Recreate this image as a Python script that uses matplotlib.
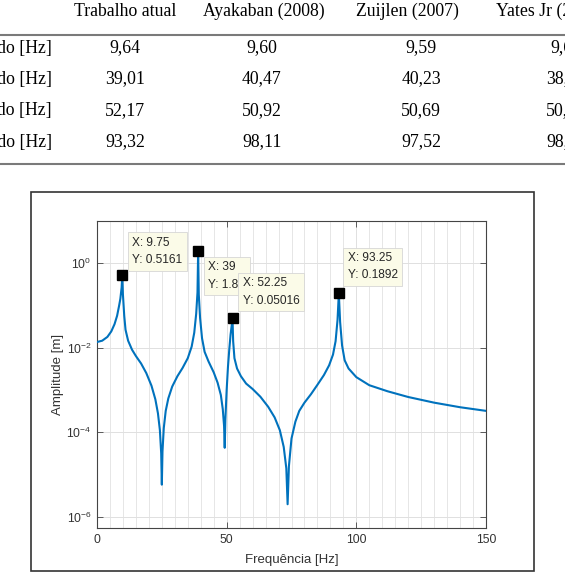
import numpy as np
import matplotlib
matplotlib.use("Agg")
import matplotlib.pyplot as plt
from matplotlib.patches import Rectangle
from matplotlib.lines import Line2D
from matplotlib.ticker import FixedLocator, MultipleLocator, LogFormatterMathtext, NullLocator

plt.rcParams["font.family"] = ["Liberation Sans", "DejaVu Sans"]
plt.rcParams["mathtext.default"] = "regular"

# table data (document screenshot above the chart)
col_heads = ["Trabalho atual", "Ayakaban (2008)", "Zuijlen (2007)", "Yates Jr (2008)"]
row_heads = ["Primeiro modo [Hz]", "Segundo modo [Hz]", "Terceiro modo [Hz]", "Quarto modo [Hz]"]
trabalho = ["9,64", "39,01", "52,17", "93,32"]
ayakaban = ["9,60", "40,47", "50,92", "98,11"]
zuijlen = ["9,59", "40,23", "50,69", "97,52"]
yates = ["9,61", "38,73", "50,14", "98,04"]

# frequency response
freq = [0, 2, 4, 5.5, 6.75, 7.75, 8.5, 9.0, 9.5, 9.75, 10.0, 10.5, 11.0, 12.0, 13.5,
        15.0, 17.0, 19.0, 21.0, 22.5, 23.5, 24.25, 24.75, 25.0, 25.25, 25.75, 26.5,
        27.5, 29.0, 31.0, 33.0, 35.0, 36.5, 37.5, 38.25, 38.75, 39.0, 39.25, 39.75,
        40.5, 41.5, 43.0, 45.0, 46.5, 47.75, 48.5, 49.0, 49.25, 49.5, 50.0, 50.5,
        51.0, 51.5, 52.0, 52.25, 52.5, 53.0, 54.0, 55.5, 57.5, 60, 63, 66, 68.5,
        70.5, 72, 73, 73.5, 74, 75, 76.5, 78, 80, 82.5, 85, 87.5, 89.5, 91, 92,
        92.75, 93.25, 93.75, 94.5, 95.5, 97, 100, 105, 112, 120, 130, 140, 150]
amp = [1.35e-2, 1.45e-2, 1.78e-2, 2.40e-2, 3.55e-2, 5.62e-2, 9.55e-2, 1.41e-1, 2.63e-1,
       5.161e-1, 1.78e-1, 5.62e-2, 2.63e-2, 1.45e-2, 8.9e-3,
       6.3e-3, 4.2e-3, 2.5e-3, 1.26e-3, 6.0e-4, 2.8e-4, 1.12e-4, 3.2e-5, 5.8e-6, 3.5e-5,
       1.26e-4, 3.2e-4,
       6.3e-4, 1.2e-3, 2.1e-3, 3.3e-3, 5.6e-3, 1.05e-2, 2.24e-2, 6.3e-2, 2.0e-1, 1.85,
       1.78e-1, 5.0e-2,
       1.66e-2, 7.9e-3, 4.7e-3, 2.6e-3, 1.48e-3, 7.6e-4, 3.5e-4, 1.41e-4, 4.3e-5, 2.0e-4,
       1.0e-3, 3.5e-3,
       8.9e-3, 2.0e-2, 3.55e-2, 5.016e-2, 1.41e-2, 5.6e-3, 3.2e-3, 2.1e-3, 1.41e-3,
       1.05e-3, 6.9e-4, 4.0e-4, 2.24e-4,
       1.12e-4, 4.5e-5, 1.41e-5, 2.0e-6, 1.58e-5, 7.1e-5, 1.78e-4, 3.2e-4, 5.0e-4,
       7.9e-4, 1.32e-3, 2.24e-3, 3.8e-3, 6.8e-3, 1.41e-2,
       4.5e-2, 1.892e-1, 4.0e-2, 1.12e-2, 5.0e-3, 3.2e-3, 2.0e-3, 1.29e-3, 9.3e-4,
       6.8e-4, 5.0e-4, 3.9e-4, 3.2e-4]

# data tips
tip_x = [9.75, 39, 52.25, 93.25]
tip_y = [0.5161, 1.85, 0.05016, 0.1892]
tip_txt = ["X: 9.75\nY: 0.5161", "X: 39\nY: 1.85", "X: 52.25\nY: 0.05016", "X: 93.25\nY: 0.1892"]

W, H = 565, 573


def fx(x):
    return x / W


def fy(y):
    return 1 - y / H


fig = plt.figure(figsize=(W / 100, H / 100), dpi=100)

# ---- table ----
serif = "Liberation Serif"
tsize = 12.8
row_y = [48, 79, 110.5, 142]
fig.text(fx(125.5), fy(11.5), col_heads[0], ha="center", va="center", family=serif, fontsize=tsize)
fig.text(fx(264), fy(11.5), col_heads[1], ha="center", va="center", family=serif, fontsize=tsize)
fig.text(fx(407), fy(11.5), col_heads[2], ha="center", va="center", family=serif, fontsize=tsize)
fig.text(fx(496), fy(11.5), col_heads[3], ha="left", va="center", family=serif, fontsize=tsize)
for i in range(4):
    fig.text(fx(52), fy(row_y[i]), row_heads[i], ha="right", va="center", family=serif, fontsize=tsize)
    fig.text(fx(125), fy(row_y[i]), trabalho[i], ha="center", va="center", family=serif, fontsize=tsize)
    fig.text(fx(262), fy(row_y[i]), ayakaban[i], ha="center", va="center", family=serif, fontsize=tsize)
    fig.text(fx(421), fy(row_y[i]), zuijlen[i], ha="center", va="center", family=serif, fontsize=tsize)
    fig.text(fx(566), fy(row_y[i]), yates[i], ha="center", va="center", family=serif, fontsize=tsize)
for yy in [34.5, 164]:
    fig.add_artist(Line2D([0, 1], [fy(yy), fy(yy)], transform=fig.transFigure, color="#7a7a7a", lw=1.5))

# ---- framed MATLAB figure ----
fig.add_artist(Rectangle((fx(31), fy(571)), fx(534) - fx(31), fy(192) - fy(571),
                         transform=fig.transFigure, fill=False, ec="#333333", lw=1.2))

ax = fig.add_axes([fx(97), fy(528), fx(486) - fx(97), fy(221) - fy(528)])
ax.plot(freq, amp, color="#0072BD", lw=1.5, zorder=3)
ax.set_yscale("log")
ax.set_xlim(0, 150)
ax.set_ylim(5.5e-7, 9.7)

ax.xaxis.set_major_locator(FixedLocator([0, 50, 100, 150]))
ax.xaxis.set_minor_locator(MultipleLocator(5))
ax.yaxis.set_major_locator(FixedLocator([1e-6, 1e-4, 1e-2, 1e0]))
ax.yaxis.set_major_formatter(LogFormatterMathtext())
ax.yaxis.set_minor_locator(NullLocator())
ax.grid(True, which="major", color="#e0e0e0", lw=0.7)
ax.grid(True, which="minor", axis="x", color="#e6e6e6", lw=0.7)
ax.set_axisbelow(True)

for s in ax.spines.values():
    s.set_color("#444444")
    s.set_linewidth(0.8)
ax.tick_params(which="major", direction="in", top=True, right=True, length=4, width=0.6,
               color="#444444", labelcolor="#333333", labelsize=8.7, pad=4)
ax.tick_params(which="minor", length=0)

ax.set_xlabel("Frequência [Hz]", fontsize=9.5, color="#333333")
ax.set_ylabel("Amplitude [m]", fontsize=9.5, color="#333333")
ax.xaxis.set_label_coords(0.5, -0.104)
ax.yaxis.set_label_coords(-0.1, 0.5)
ax.xaxis.label.set_va("center")
ax.yaxis.label.set_va("center")

# data tip markers and boxes
ax.plot(tip_x, tip_y, "s", color="black", ms=7, zorder=4, clip_on=False)
offsets = [(10, 9, "bottom"), (10, -10, "top"), (10, 11, "bottom"), (9, 12, "bottom")]
for i in range(4):
    dx, dy, va = offsets[i]
    ax.annotate(tip_txt[i], xy=(tip_x[i], tip_y[i]), xytext=(dx, dy), textcoords="offset pixels",
                ha="left", va=va, fontsize=8.6, color="#262626",
                linespacing=1.6, zorder=5 + i, annotation_clip=False,
                bbox=dict(boxstyle="square,pad=0.38", fc="#fbfbe8", ec="#d6d6d6", lw=0.6))

fig.savefig("out.png", dpi=100)
